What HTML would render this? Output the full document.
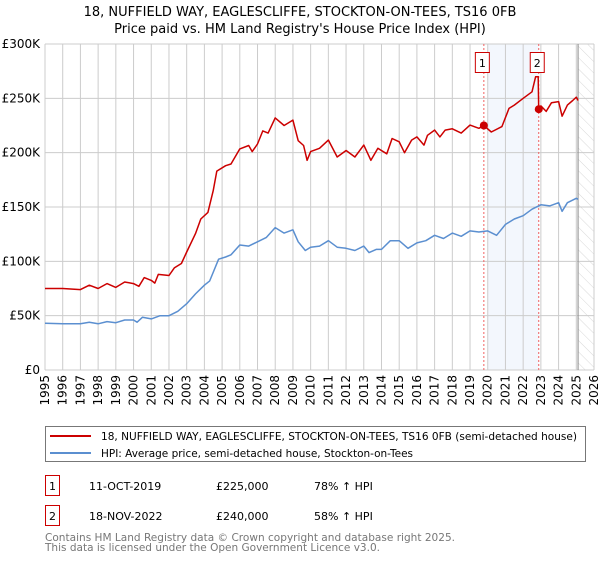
<!DOCTYPE html>
<html><head><meta charset="utf-8"><style>
body{margin:0;background:#fff;font-family:"DejaVu Sans","Liberation Sans",sans-serif;}
svg text{font-family:"DejaVu Sans","Liberation Sans",sans-serif;}
</style></head><body>
<svg id="chart" width="600" height="560" viewBox="0 0 600 560">
<defs>
<pattern id="hatch" width="8" height="8" patternUnits="userSpaceOnUse" patternTransform="rotate(-45)">
<line x1="0" y1="0" x2="0" y2="8" stroke="#d8d8d8" stroke-width="1"/>
</pattern>
</defs>
<text x="300" y="16" text-anchor="middle" font-size="13" fill="#000">18, NUFFIELD WAY, EAGLESCLIFFE, STOCKTON-ON-TEES, TS16 0FB</text>
<text x="300" y="33" text-anchor="middle" font-size="13" fill="#000">Price paid vs. HM Land Registry's House Price Index (HPI)</text>
<g id="grid"></g>
<g id="marks"></g>
<g id="axes"></g>
<rect x="45.5" y="426.5" width="540" height="35" fill="#fff" stroke="#777"/>
<line x1="50" y1="436" x2="91" y2="436" stroke="#cc0000" stroke-width="2"/>
<text x="101" y="440" font-size="10.5" textLength="476" lengthAdjust="spacingAndGlyphs">18, NUFFIELD WAY, EAGLESCLIFFE, STOCKTON-ON-TEES, TS16 0FB (semi-detached house)</text>
<line x1="50" y1="453" x2="91" y2="453" stroke="#5b8fd0" stroke-width="2"/>
<text x="101" y="457" font-size="10.5" textLength="312" lengthAdjust="spacingAndGlyphs">HPI: Average price, semi-detached house, Stockton-on-Tees</text>
<g>
<rect x="45.5" y="475.5" width="14" height="20" fill="#fff" stroke="#cc0000"/>
<text x="52.5" y="490" text-anchor="middle" font-size="11">1</text>
<text x="89" y="490" font-size="11">11-OCT-2019</text>
<text x="216" y="490" font-size="11">£225,000</text>
<text x="314" y="490" font-size="11">78% ↑ HPI</text>
</g>
<g>
<rect x="45.5" y="505.5" width="14" height="20" fill="#fff" stroke="#cc0000"/>
<text x="52.5" y="520" text-anchor="middle" font-size="11">2</text>
<text x="89" y="520" font-size="11">18-NOV-2022</text>
<text x="216" y="520" font-size="11">£240,000</text>
<text x="314" y="520" font-size="11">58% ↑ HPI</text>
</g>
<text x="45" y="541" font-size="11" fill="#777" textLength="410" lengthAdjust="spacingAndGlyphs">Contains HM Land Registry data © Crown copyright and database right 2025.</text>
<text x="45" y="551" font-size="11" fill="#777" textLength="335" lengthAdjust="spacingAndGlyphs">This data is licensed under the Open Government Licence v3.0.</text>
</svg>
<script>
const hpiYears=[1995,1996,1997,1997.5,1998,1998.5,1999,1999.5,2000,2000.2,2000.5,2001,2001.5,2002,2002.5,2003,2003.5,2004,2004.3,2004.8,2005.2,2005.5,2006,2006.5,2007,2007.5,2008,2008.5,2009,2009.3,2009.7,2010,2010.5,2011,2011.5,2012,2012.5,2013,2013.3,2013.7,2014,2014.5,2015,2015.5,2016,2016.5,2017,2017.5,2018,2018.5,2019,2019.5,2020,2020.5,2021,2021.5,2022,2022.5,2023,2023.5,2024,2024.2,2024.5,2025,2025.1];
const hpiValues=[43,42.5,42.5,44,42.5,44.5,43.5,46,46,44,48.5,47,50,50,54,61,70,78,82,102,104,106,115,114,118,122,131,126,129,118,110,113,114,119,113,112,110,114,108,111,111,119,119,112,117,119,124,121,126,123,128,127,128,124,134,139,142,148,152,151,154,146,154,158,157];
const priceYears=[1995,1996,1997,1997.5,1998,1998.5,1999,1999.5,2000,2000.3,2000.6,2001,2001.2,2001.4,2002,2002.3,2002.7,2003,2003.5,2003.8,2004.2,2004.5,2004.7,2005.2,2005.5,2006,2006.5,2006.7,2007,2007.3,2007.6,2008,2008.5,2009,2009.3,2009.6,2009.8,2010,2010.5,2011,2011.5,2012,2012.5,2013,2013.4,2013.8,2014.3,2014.6,2015,2015.3,2015.7,2016,2016.4,2016.6,2017,2017.3,2017.6,2018,2018.5,2019,2019.5,2019.78,2020.2,2020.8,2021.2,2021.5,2022,2022.5,2022.7,2022.85,2022.88,2023,2023.3,2023.6,2024,2024.2,2024.5,2024.8,2025,2025.1];
const priceValues=[75,75,74,78,75,79.5,76,81,79.5,77,85,82.5,80,88,87,94,98,108.6,125.5,139,145,165,183,188,189.6,203.5,206.6,201,208,220,218,232,225,230,211,206.6,193,201,204,211.6,196,202,196,207,193,204,199,213,210,200,211.6,214.5,207,216,220.8,214.5,220.8,222,218,225.4,222.4,225,219,224,240.7,243.8,250,256,269.8,269.8,240,243,238,246,247,233.6,243.8,248,251,248];
const saleYears=[2019.78,2022.88];
const saleValues=[225,240];
const saleLabels=["1","2"];
const yTicks=[0,50,100,150,200,250,300];
const yTickLabels=["£0","£50K","£100K","£150K","£200K","£250K","£300K"];
const xTicks=[1995,1996,1997,1998,1999,2000,2001,2002,2003,2004,2005,2006,2007,2008,2009,2010,2011,2012,2013,2014,2015,2016,2017,2018,2019,2020,2021,2022,2023,2024,2025,2026];
const shadeStart=2020, dataEnd=2025.1;

const X0=45,X1=594,Y0=370,Y1=44;
const xs=y=>X0+(y-1995)/(2026-1995)*(X1-X0);
const ys=v=>Y0-v/300*(Y0-Y1);
const NS="http://www.w3.org/2000/svg";
function mk(tag,attrs,parent){const e=document.createElementNS(NS,tag);for(const k in attrs)e.setAttribute(k,attrs[k]);parent.appendChild(e);return e;}
const grid=document.getElementById('grid'),marks=document.getElementById('marks'),axes=document.getElementById('axes');

let r=mk('rect',{x:xs(shadeStart),y:Y1,width:xs(saleYears[1])-xs(shadeStart),height:Y0-Y1,fill:'#eef3fc',opacity:0.7},grid);


r=mk('rect',{x:xs(dataEnd),y:Y1,width:X1-xs(dataEnd),height:Y0-Y1,fill:'url(#hatch)'},grid);


xTicks.forEach(t=>{
  const l=mk('line',{x1:xs(t),x2:xs(t),y1:Y1,y2:Y0,stroke:'#ccc','stroke-width':1},grid);
  
  
  const tx=mk('text',{x:0,y:0,'font-size':12,'text-anchor':'end',transform:`translate(${xs(t)+4},375) rotate(-90)`},axes);
  tx.textContent=t;
  
  
});
yTicks.forEach((t,i)=>{
  const l=mk('line',{x1:X0,x2:X1,y1:ys(t),y2:ys(t),stroke:'#ccc','stroke-width':1},grid);
  
  
  const tx=mk('text',{x:40,y:ys(t)+4,'font-size':12,'text-anchor':'end'},axes);
  tx.textContent=yTickLabels[i];
  
  
});
let vl=mk('line',{x1:xs(dataEnd),x2:xs(dataEnd),y1:Y1,y2:Y0,stroke:'#888','stroke-width':1},grid);


saleYears.forEach((s,i)=>{
  const l=mk('line',{x1:xs(s),x2:xs(s),y1:Y1,y2:Y0,stroke:'#f06060','stroke-width':1,'stroke-dasharray':'2,2'},marks);
  
  
});
function path(xa,va,color,name){
  const d=xa.map((x,i)=>(i?'L':'M')+xs(x).toFixed(1)+','+ys(va[i]).toFixed(1)).join('');
  const p=mk('path',{d:d,fill:'none',stroke:color,'stroke-width':1.5,'stroke-linejoin':'round'},marks);
  
  
}
path(hpiYears,hpiValues,'#5b8fd0','hpi-line');
path(priceYears,priceValues,'#cc0000','price-line');
saleYears.forEach((s,i)=>{
  const c=mk('circle',{cx:xs(s),cy:ys(saleValues[i]),r:4,fill:'#cc0000'},marks);
  
  
  const g=mk('g',{},marks);
  
  
  mk('rect',{x:xs(s)-8.5,y:52.5,width:14,height:20,fill:'#fff',stroke:'#cc0000'},g);
  const t=mk('text',{x:xs(s)-1.5,y:67,'font-size':11,'text-anchor':'middle'},g);
  t.textContent=saleLabels[i];
});
</script>
</body></html>
